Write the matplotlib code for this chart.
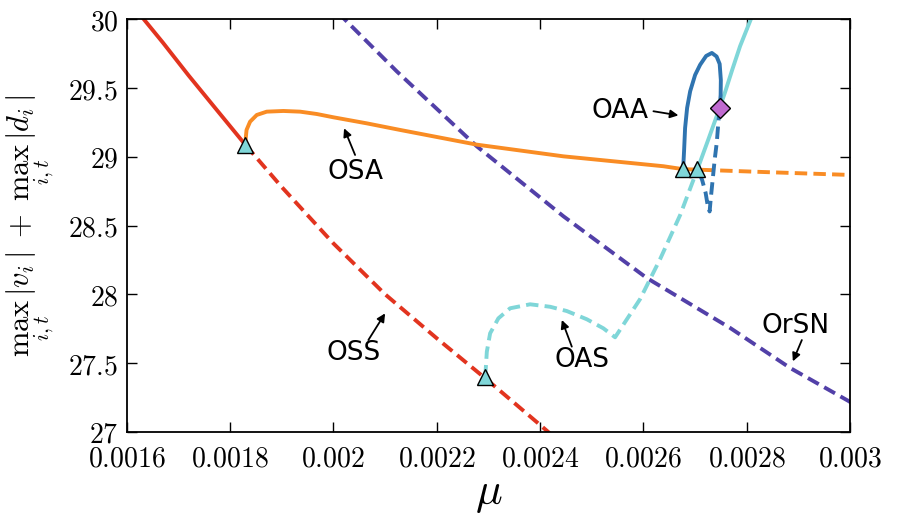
import numpy as np
import matplotlib
matplotlib.use("Agg")
import matplotlib.pyplot as plt

plt.rcParams['mathtext.fontset'] = 'cm'
plt.rcParams['font.family'] = ['DejaVu Sans']

# OSS branch (stable part, then unstable part)
oss_mu_s = [0.00162, 0.00167, 0.00172, 0.00177, 0.00183]
oss_y_s = [30.06, 29.83, 29.59, 29.36, 29.085]
oss_mu_u = [0.00183, 0.0019, 0.0020, 0.0021, 0.0022, 0.0023, 0.0024, 0.00242]
oss_y_u = [29.085, 28.78, 28.37, 28.0, 27.68, 27.37, 27.05, 26.985]

# OSA branch
osa_mu_s = [0.001829, 0.0018319, 0.0018387, 0.0018517, 0.001871, 0.0019032,
            0.0019355, 0.0019678, 0.0020, 0.0020646, 0.0021291, 0.0022776,
            0.0024453, 0.0026389, 0.0026764]
osa_y_s = [29.084, 29.195, 29.255, 29.304, 29.328, 29.333,
           29.328, 29.311, 29.287, 29.243, 29.195, 29.088,
           29.003, 28.931, 28.91]
osa_mu_u = [0.0026764, 0.0028325, 0.002998, 0.00301]
osa_y_u = [28.91, 28.889, 28.868, 28.867]

# OAS branch
oas_mu_u = [0.002294, 0.002295, 0.002297, 0.0023034, 0.0023194, 0.0023421,
            0.0023808, 0.0024195, 0.0024518, 0.0024906, 0.0025227, 0.0025453,
            0.0025937, 0.0026325, 0.0026712, 0.0027047]
oas_y_u = [27.395, 27.461, 27.582, 27.716, 27.825, 27.898,
           27.927, 27.909, 27.878, 27.818, 27.752, 27.687,
           27.965, 28.256, 28.576, 28.909]
oas_mu_s = [0.0027047, 0.0027254, 0.0027477, 0.0027583, 0.0027719, 0.0027873, 0.0028106]
oas_y_s = [28.909, 29.122, 29.355, 29.471, 29.631, 29.805, 30.024]

# OAA branch
oaa_mu_s = [0.002677, 0.0026789, 0.0026808, 0.0026847, 0.0026906, 0.0027002,
            0.0027099, 0.0027215, 0.0027326, 0.0027418, 0.0027477, 0.002750,
            0.0027496, 0.0027477]
oaa_y_s = [28.909, 29.049, 29.209, 29.355, 29.476, 29.595,
           29.669, 29.733, 29.755, 29.729, 29.675, 29.558,
           29.449, 29.355]
oaa_mu_u = [0.0027477, 0.0027448, 0.0027422, 0.002738, 0.0027341, 0.0027302,
            0.0027283, 0.0027244, 0.0027206, 0.0027138, 0.0027047]
oaa_y_u = [29.355, 29.231, 29.107, 28.976, 28.831, 28.685,
           28.602, 28.649, 28.736, 28.831, 28.909]

# OrSN curve
orsn_mu = [0.00201, 0.0020193, 0.0021227, 0.0022776, 0.0024453, 0.0026067,
           0.002768, 0.0028841, 0.0029984, 0.00301]
orsn_y = [30.05, 30.009, 29.621, 29.076, 28.567, 28.118,
          27.755, 27.464, 27.221, 27.19]

# bifurcation points
tri_mu = [0.001829, 0.002294, 0.0026764, 0.0027047]
tri_y = [29.084, 27.395, 28.91, 28.91]
dia_mu = [0.0027477]
dia_y = [29.355]

# branch labels: text position, arrow start, arrow tip
labels = ['OSA', 'OSS', 'OAS', 'OAA', 'OrSN']
label_xy = [(0.002042, 28.891), (0.0020387, 27.571), (0.0024809, 27.522),
            (0.002555, 29.331), (0.0028938, 27.767)]
arrow_from = [(0.002042, 29.013), (0.0020677, 27.667), (0.0024615, 27.619),
              (0.0026195, 29.331), (0.0029068, 27.667)]
arrow_to = [(0.0020207, 29.207), (0.0021001, 27.861), (0.0024422, 27.813),
            (0.0026679, 29.301), (0.0028894, 27.512)]

xticks = [0.0016, 0.0018, 0.002, 0.0022, 0.0024, 0.0026, 0.0028, 0.003]
xticklabels = ['0.0016', '0.0018', '0.002', '0.0022', '0.0024', '0.0026', '0.0028', '0.003']
yticks = [27, 27.5, 28, 28.5, 29, 29.5, 30]
yticklabels = ['27', '27.5', '28', '28.5', '29', '29.5', '30']

red = '#e2341f'
orange = '#f98c24'
purple = '#5240a8'
cyan = '#7fd6d8'
blue = '#2f74b0'

fig = plt.figure(figsize=(8.97, 5.19), dpi=100)
ax = fig.add_axes([0.1413, 0.1681, 0.8063, 0.7948])

lw = 2.8
dsh = (3.2, 1.6)
ax.plot(orsn_mu, orsn_y, '--', color=purple, lw=lw, dashes=dsh)
ax.plot(oss_mu_s, oss_y_s, '-', color=red, lw=lw)
ax.plot(oss_mu_u, oss_y_u, '--', color=red, lw=lw, dashes=dsh)
ax.plot(osa_mu_s, osa_y_s, '-', color=orange, lw=lw)
ax.plot(osa_mu_u, osa_y_u, '--', color=orange, lw=lw, dashes=dsh)
ax.plot(oas_mu_u, oas_y_u, '--', color=cyan, lw=lw, dashes=dsh)
ax.plot(oas_mu_s, oas_y_s, '-', color=cyan, lw=lw)
ax.plot(oaa_mu_s, oaa_y_s, '-', color=blue, lw=lw)
ax.plot(oaa_mu_u, oaa_y_u, '--', color=blue, lw=lw, dashes=dsh)

ax.plot(tri_mu, tri_y, '^', ms=11, mfc=cyan, mec='black', mew=1.0, zorder=5)
ax.plot(dia_mu, dia_y, 'D', ms=10, mfc='#c06ad0', mec='black', mew=1.0, zorder=5)

arrow = dict(arrowstyle='-|>', color='black', lw=1.3, mutation_scale=12,
             shrinkA=0, shrinkB=0)
for name, pos, a0, a1 in zip(labels, label_xy, arrow_from, arrow_to):
    ax.text(pos[0], pos[1], name, fontsize=19, ha='center', va='center')
    ax.annotate('', xy=a1, xytext=a0, arrowprops=arrow)

ax.set_xlim(0.0016, 0.003)
ax.set_ylim(27, 30)
ax.set_xticks(xticks)
ax.set_xticklabels(['$' + t + '$' for t in xticklabels], fontsize=20)
ax.set_yticks(yticks)
ax.set_yticklabels(['$' + t + '$' for t in yticklabels], fontsize=20)
ax.tick_params(direction='in', length=7, width=1.0, top=True, right=True)
ax.tick_params(axis='x', pad=9)
ax.tick_params(axis='y', pad=6)
for s in ax.spines.values():
    s.set_linewidth(1.3)

ax.set_xlabel(r'$\mu$', fontsize=32, labelpad=0)
ax.set_ylabel(r'$\max_{i,t}\,|v_i|\;+\;\max_{i,t}\,|d_i|$', fontsize=22, labelpad=9)

fig.savefig('out.png', dpi=100)
